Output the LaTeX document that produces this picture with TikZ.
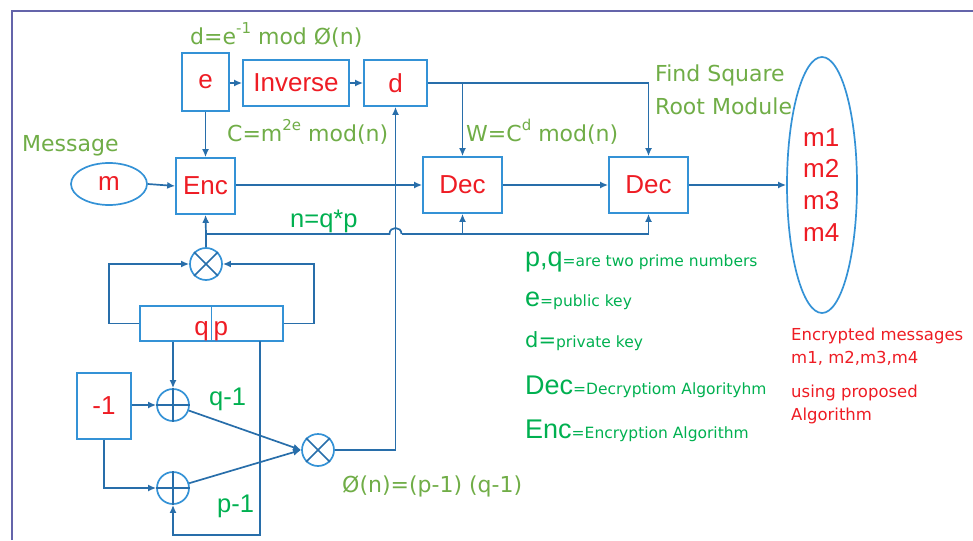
\documentclass[tikz,border=0pt]{standalone}
\usepackage{fontspec}
\setmainfont{Liberation Sans}
\newfontfamily\gf{DejaVu Sans}
\usetikzlibrary{arrows.meta,shapes.geometric}
\definecolor{boxblue}{RGB}{52,146,214}
\definecolor{lnblue}{RGB}{40,110,170}
\definecolor{tred}{RGB}{238,28,36}
\definecolor{lblgreen}{RGB}{112,173,71}
\definecolor{bgreen}{RGB}{0,176,80}
\definecolor{frm}{RGB}{100,100,170}
\newcommand\lgbig[1]{{\fontsize{27}{28}\selectfont #1}}
\newcommand\lgsm[1]{{\gf\fontsize{15.5}{18}\selectfont #1}}
\newcommand\supx[1]{\raisebox{0.5em}{\fontsize{15}{15}\selectfont #1}}
\begin{document}
\begin{tikzpicture}[x=1pt,y=-1pt,
 blk/.style={draw=boxblue,line width=1.7pt,inner sep=0pt,text=tred,font=\fontsize{26}{28}\selectfont},
 ln/.style={draw=lnblue,line width=1.7pt},
 conn/.style={ln,-{Latex[length=8pt,width=7pt]}},
 op/.style={circle,draw=boxblue,line width=1.7pt,minimum size=32pt,inner sep=0pt},
 xmark/.style={draw=lnblue,line width=1.7pt},
 gl/.style={text=lblgreen,font=\gf\fontsize{22}{24}\selectfont,anchor=base west,inner sep=0pt},
 gn/.style={text=bgreen,font=\fontsize{25.5}{28}\selectfont,anchor=base west,inner sep=0pt},
 lg/.style={text=bgreen,anchor=base west,inner sep=0pt},
 rt/.style={text=tred,font=\gf\fontsize{16.5}{20}\selectfont,anchor=base west,inner sep=0pt},
 mt/.style={text=tred,font=\fontsize{26}{28}\selectfont,anchor=base west,inner sep=0pt}
]
\useasboundingbox (0,0) rectangle (973,540);
% frame
\draw[frm,line width=1.5pt] (12,540) -- (12,11) -- (973,11);

% blocks
\node[blk,minimum width=47pt,minimum height=58pt] (e) at (205.5,82) {e};
\node[blk,minimum width=106pt,minimum height=46pt] (inv) at (296,83) {Inverse};
\node[blk,minimum width=63pt,minimum height=46pt] (d) at (395.5,83) {d};
\node[blk,minimum width=59pt,minimum height=56pt] (enc) at (205.5,186) {Enc};
\node[blk,minimum width=79pt,minimum height=56pt] (dec1) at (462.5,185) {Dec};
\node[blk,minimum width=79pt,minimum height=56pt] (dec2) at (648.5,185) {Dec};
\node[blk,ellipse,minimum width=76pt,minimum height=42pt] (m) at (109,184) {m};
\node[blk,ellipse,minimum width=70pt,minimum height=256pt] (out) at (822,185) {};
\node[blk,minimum width=143pt,minimum height=35pt] (qp) at (211.5,323.5) {};
\node[mt,anchor=base east] (qt) at (209,335) {q};
\node[mt] (pt) at (213.5,335) {p};
\draw[draw=boxblue,line width=1.7pt] (qp.north) -- (qp.south);
\node[blk,minimum width=54pt,minimum height=66pt] (mone) at (104,406) {-1};

% operators
\node[op] (otA) at (206,264) {};
\draw[xmark] (otA.north west) -- (otA.south east) (otA.north east) -- (otA.south west);
\node[op] (p1) at (173,405) {};
\draw[xmark] (p1.north) -- (p1.south) (p1.west) -- (p1.east);
\node[op] (p2) at (173,488) {};
\draw[xmark] (p2.north) -- (p2.south) (p2.west) -- (p2.east);
\node[op] (otB) at (318,450) {};
\draw[xmark] (otB.north west) -- (otB.south east) (otB.north east) -- (otB.south west);

% output texts
\node[mt] (m1t) at (803,147) {m1};
\node[mt] (m2t) at (803,178) {m2};
\node[mt] (m3t) at (803,209) {m3};
\node[mt] (m4t) at (803,241) {m4};

% connectors top
\draw[conn] (e.east |- inv.west) -- (inv.west);
\draw[conn] (inv.east) -- (d.west);
\draw[conn] (e.south) -- (enc.north);
\draw[conn] (m.east) -- (enc.west);
\draw[conn] (enc.east |- dec1.west) -- (dec1.west);
\draw[conn] (dec1.east) -- (dec2.west);
\draw[conn] (dec2.east) -- (out.west);
\draw[conn] (d.east) -| (dec2.north);
\draw[conn] (d.east -| dec1.north) -- (dec1.north);

% n line with bridge
\coordinate (nl) at (206,234);
\coordinate (nb1) at (389.5,234);
\coordinate (nb2) at (401.5,234);
\draw[ln] (otA.north) -- (nl);
\draw[conn] (nl) -- (enc.south);
\draw[ln] (nl) -- (nb1) .. controls (389.5,226) and (401.5,226) .. (nb2);
\draw[conn] (nb2) -| (dec2.south);
\draw[conn] (dec1.south |- nl) -- (dec1.south);

% loops to top multiplier
\draw[conn] (qp.west) -- ++(-30,0) |- (otA.west);
\draw[conn] (qp.east) -- ++(30,0) |- (otA.east);

% qp to adders
\draw[conn] (qp.south -| p1.north) -- (p1.north);
\coordinate (qr) at (260,341);
\draw[conn] (qr) -- ++(0,194) -| (p2.south);
\draw[conn] (mone.east |- p1.west) -- (p1.west);
\draw[conn] (mone.south) |- (p2.west);
\draw[conn] (p1) -- (otB.west);
\draw[conn] (p2) -- (otB.west);
\draw[conn] (otB.east) -| (d.south);

% green labels
\node[gl] (l1) at (190,45) {d=e\supx{-1} mod Ø(n)};
\node[gl] (l2) at (227,142) {C=m\supx{2e} mod(n)};
\node[gl] (l3) at (466,142) {W=C\supx{d} mod(n)};
\node[gl] (l4) at (22,152) {Message};
\node[gl] (l5) at (655,82) {Find Square};
\node[gl] (l6) at (655,115) {Root Module};
\node[gl] (l7) at (342,492) {Ø(n)=(p-1) (q-1)};
\node[gn] (l8) at (290,227) {n=q*p};
\node[gn] (l9) at (209,405) {q-1};
\node[gn] (l10) at (217,512) {p-1};

% legend
\node[lg] (g1) at (525,266) {\lgbig{p,q}\lgsm{=are two prime numbers}};
\node[lg] (g2) at (525,306) {\lgbig{e}\lgsm{=public key}};
\node[lg] (g3) at (525,347) {{\gf\fontsize{21}{24}\selectfont d=}\lgsm{private key}};
\node[lg] (g4) at (525,394) {\lgbig{Dec}\lgsm{=Decryptiom Algorityhm}};
\node[lg] (g5) at (525,438) {\lgbig{Enc}\lgsm{=Encryption Algorithm}};

% red description
\node[rt] (r1) at (791,340) {Encrypted messages};
\node[rt] (r2) at (791,363) {m1, m2,m3,m4};
\node[rt] (r3) at (791,397) {using proposed};
\node[rt] (r4) at (791,420) {Algorithm};
\end{tikzpicture}
\end{document}
